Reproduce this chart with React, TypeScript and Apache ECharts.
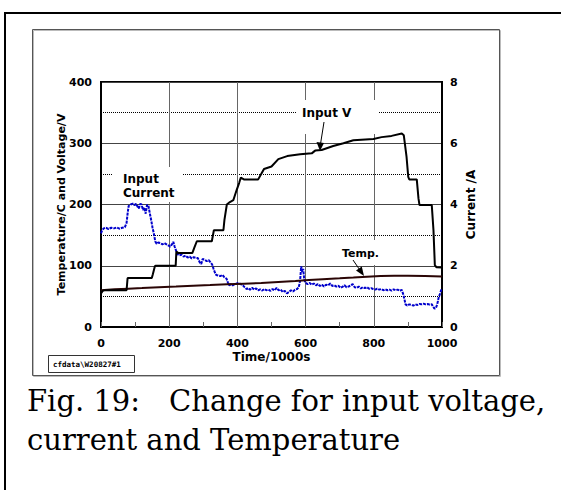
import React, { useEffect, useRef } from 'react';
import * as echarts from 'echarts';

// Input voltage (V), left axis
const voltTime = [0, 5, 10, 75, 78, 149, 152, 158, 160, 219, 221, 226, 268, 274, 281, 325, 331, 359, 362, 369, 378, 388, 398, 405, 410, 419, 461, 471, 478, 500, 520, 546, 584, 618, 628, 647, 681, 711, 740, 799, 823, 852, 882, 888, 896, 901, 904, 926, 931, 934, 970, 975, 979, 984, 1000];
const voltValues = [55, 59, 60, 60, 80, 80, 86, 99, 100, 100, 123, 121, 121, 130, 140, 140, 158, 158, 175, 200, 204, 207, 224, 235, 244, 241, 241, 251, 258, 262, 274, 279, 282, 283.5, 288, 289, 295.5, 300, 305, 307, 310, 312, 316, 313, 278, 245, 241, 241, 210, 199, 199, 158, 101, 97.5, 97];

// Temperature (C), left axis
const tempTime = [0, 40, 80, 120, 170, 220, 270, 320, 370, 420, 470, 520, 570, 610, 650, 700, 740, 780, 820, 860, 900, 950, 1000];
const tempValues = [60, 61.5, 62.6, 63.5, 64.8, 66, 67.5, 68.6, 69.8, 70.8, 71.8, 73.5, 75, 76.8, 78, 79.5, 80.8, 82.2, 83.2, 83.8, 83.6, 83.3, 82.5];

// Input current (A), right axis
const currTime = [0, 3, 8, 15, 22, 30, 38, 46, 54, 62, 70, 75, 78, 81, 87, 93, 98, 103, 107, 111, 115, 119, 123, 127, 131, 135, 139, 143, 147, 151, 155, 159, 163, 168, 174, 180, 186, 192, 198, 203, 208, 212, 216, 220, 224, 230, 236, 242, 248, 254, 260, 266, 272, 278, 284, 290, 294, 298, 304, 310, 316, 322, 326, 330, 334, 338, 344, 350, 356, 362, 368, 372, 376, 381, 386, 392, 398, 404, 410, 416, 421, 427, 432, 437, 443, 449, 455, 461, 467, 473, 479, 485, 491, 497, 503, 509, 515, 521, 527, 533, 539, 545, 551, 557, 563, 569, 575, 580, 584, 587, 590, 593, 596, 600, 606, 612, 618, 624, 630, 636, 642, 648, 654, 660, 666, 672, 678, 684, 690, 696, 702, 708, 714, 720, 726, 732, 738, 744, 750, 756, 762, 768, 774, 780, 786, 792, 798, 804, 810, 816, 822, 828, 834, 840, 846, 852, 858, 864, 870, 876, 882, 886, 890, 893, 898, 904, 910, 916, 922, 928, 934, 940, 946, 952, 958, 964, 970, 974, 978, 982, 986, 990, 994, 998, 1000];
const currValues = [3.06, 3.15, 3.22, 3.24, 3.2, 3.24, 3.22, 3.25, 3.21, 3.24, 3.26, 3.4, 3.7, 3.95, 4.0, 4.03, 3.98, 4.02, 3.93, 3.87, 4.02, 4.0, 3.82, 3.9, 3.7, 3.99, 3.96, 3.72, 3.5, 3.25, 3.05, 2.8, 2.72, 2.76, 2.74, 2.7, 2.74, 2.7, 2.66, 2.62, 2.7, 2.78, 2.62, 2.5, 2.38, 2.34, 2.36, 2.3, 2.33, 2.27, 2.3, 2.24, 2.28, 2.26, 2.25, 2.1, 2.06, 2.22, 2.2, 2.15, 2.18, 2.1, 2.04, 1.9, 1.78, 1.7, 1.68, 1.66, 1.7, 1.62, 1.58, 1.46, 1.36, 1.4, 1.36, 1.4, 1.42, 1.44, 1.4, 1.36, 1.3, 1.24, 1.27, 1.22, 1.28, 1.22, 1.26, 1.2, 1.23, 1.19, 1.24, 1.2, 1.22, 1.18, 1.24, 1.2, 1.28, 1.2, 1.22, 1.14, 1.18, 1.1, 1.14, 1.2, 1.16, 1.22, 1.24, 1.3, 1.52, 1.98, 1.8, 1.9, 1.55, 1.44, 1.4, 1.44, 1.38, 1.42, 1.36, 1.4, 1.34, 1.38, 1.32, 1.38, 1.36, 1.42, 1.34, 1.36, 1.32, 1.35, 1.28, 1.31, 1.36, 1.3, 1.32, 1.36, 1.4, 1.3, 1.28, 1.32, 1.26, 1.3, 1.27, 1.3, 1.25, 1.27, 1.24, 1.22, 1.25, 1.22, 1.24, 1.2, 1.23, 1.2, 1.22, 1.19, 1.23, 1.2, 1.22, 1.18, 1.21, 1.08, 0.9, 0.74, 0.7, 0.74, 0.72, 0.7, 0.74, 0.72, 0.75, 0.74, 0.76, 0.74, 0.75, 0.73, 0.74, 0.66, 0.6, 0.62, 0.74, 0.95, 1.08, 1.22, 1.2];

const xTicks = { min: 0, max: 1000, interval: 200 };
const leftTicks = { min: 0, max: 400, interval: 100 };
const rightTicks = { min: 0, max: 8, interval: 2 };

const captionLines = ['Fig. 19:\u3000Change for input voltage,', 'current and Temperature'];
const labelInputV = 'Input V';
const labelInputCurrent = 'Input\nCurrent';
const labelTemp = 'Temp.';
const fileTag = 'cfdata\\W20827#1';

const SANS = "'DejaVu Sans', sans-serif";
const SERIF = "'DejaVu Serif', serif";

function pairs(xs: number[], ys: number[]) {
  return xs.map((x, i) => [x, ys[i]]);
}

const plain = (v: number) => String(v);

export default function App() {
  const ref = useRef<HTMLDivElement>(null);
  useEffect(() => {
    const chart = echarts.init(ref.current!, null, { renderer: 'svg', width: 561, height: 490 });
    const labelFont = { fontFamily: SANS, fontWeight: 'bold' as const, color: '#000' };
    chart.setOption({
      animation: false,
      backgroundColor: '#fff',
      grid: { left: 101, top: 82, width: 341, height: 245, show: true, borderColor: '#000', borderWidth: 2, backgroundColor: 'transparent' },
      xAxis: {
        type: 'value', ...xTicks,
        name: 'Time/1000s', nameLocation: 'middle', nameGap: 24, nameMoveOverlap: false,
        nameTextStyle: { ...labelFont, fontSize: 12 },
        axisLine: { lineStyle: { color: '#000', width: 2 } },
        axisTick: { show: true, inside: true, length: 5, lineStyle: { color: '#666' } },
        minorTick: { show: true, splitNumber: 2, length: 5, lineStyle: { color: '#666' } },
        axisLabel: { ...labelFont, fontSize: 11, margin: 11, formatter: plain },
        splitLine: { show: true, lineStyle: { color: '#666', width: 1 } },
      },
      yAxis: [
        {
          type: 'value', ...leftTicks, position: 'left',
          name: 'Temperature/C and Voltage/V', nameLocation: 'middle', nameGap: 34, nameMoveOverlap: false,
          nameTextStyle: { ...labelFont, fontSize: 11, color: '#000' },
          axisLine: { show: true, lineStyle: { color: '#000', width: 2 } },
          axisTick: { show: false },
          minorTick: { show: false, splitNumber: 2 },
          axisLabel: { ...labelFont, fontSize: 11, margin: 9, formatter: plain },
          splitLine: { show: true, lineStyle: { color: '#444', width: 1 } },
          minorSplitLine: { show: true, lineStyle: { color: '#000', width: 1, type: [1, 1] } },
        },
        {
          type: 'value', ...rightTicks, position: 'right',
          name: 'Current /A', nameLocation: 'middle', nameGap: 23, nameMoveOverlap: false,
          nameTextStyle: { ...labelFont, fontSize: 12, color: '#000' },
          axisLine: { show: true, lineStyle: { color: '#000', width: 2 } },
          axisTick: { show: false, inside: true },
          axisLabel: { ...labelFont, fontSize: 11, margin: 8, formatter: plain },
          splitLine: { show: false },
        },
      ],
      series: [
        {
          name: 'Input Current', type: 'line', yAxisIndex: 1, data: pairs(currTime, currValues),
          showSymbol: false, lineStyle: { color: '#0000cc', width: 2, type: [3, 1] }, z: 2,
        },
        {
          name: 'Temp.', type: 'line', yAxisIndex: 0, data: pairs(tempTime, tempValues),
          showSymbol: false, lineStyle: { color: '#2a0505', width: 2 }, z: 3,
        },
        {
          name: 'Input V', type: 'line', yAxisIndex: 0, data: pairs(voltTime, voltValues),
          showSymbol: false, lineStyle: { color: '#000', width: 2 }, z: 4,
        },
      ],
      graphic: [
        { type: 'polyline', z: 0, silent: true, shape: { points: [[5, 520], [5, 13], [600, 13]] }, style: { fill: 'none', stroke: '#000', lineWidth: 2 } },
        { type: 'rect', z: 0, silent: true, shape: { x: 33.5, y: 30.5, width: 467, height: 346 }, style: { fill: 'none', stroke: '#bbb', lineWidth: 1 } },
        { type: 'rect', z: 0, silent: true, shape: { x: 32.5, y: 29.5, width: 467, height: 346 }, style: { fill: 'none', stroke: '#555', lineWidth: 1 } },
        // white label backgrounds
        { type: 'rect', z: 1, silent: true, shape: { x: 297, y: 100, width: 82, height: 34 }, style: { fill: '#fff' } },
        { type: 'rect', z: 1, silent: true, shape: { x: 112, y: 167, width: 70, height: 35 }, style: { fill: '#fff' } },
        { type: 'rect', z: 1, silent: true, shape: { x: 338, y: 240, width: 44, height: 25 }, style: { fill: '#fff' } },
        // labels
        { type: 'text', z: 10, x: 302, y: 113, style: { text: labelInputV, font: `bold 12px ${SANS}`, fill: '#000', verticalAlign: 'middle', align: 'left' } },
        { type: 'text', z: 10, x: 123, y: 186, style: { text: labelInputCurrent, font: `bold 12px ${SANS}`, lineHeight: 14, fill: '#000', verticalAlign: 'middle', align: 'left' } },
        { type: 'text', z: 10, x: 342, y: 253, style: { text: labelTemp, font: `bold 11px ${SANS}`, fill: '#000', verticalAlign: 'middle', align: 'left' } },
        // arrows
        { type: 'line', z: 10, silent: true, shape: { x1: 324, y1: 122, x2: 320.5, y2: 144 }, style: { stroke: '#000', lineWidth: 1 } },
        { type: 'polygon', z: 10, silent: true, shape: { points: [[320, 151], [316.5, 142], [324, 143]] }, style: { fill: '#000' } },
        { type: 'line', z: 10, silent: true, shape: { x1: 353, y1: 260, x2: 359.5, y2: 269.5 }, style: { stroke: '#000', lineWidth: 1 } },
        { type: 'polygon', z: 10, silent: true, shape: { points: [[364, 276], [361.8, 266.6], [356, 270.6]] }, style: { fill: '#000' } },
        // file tag box
        { type: 'rect', z: 1, silent: true, shape: { x: 48.5, y: 355.5, width: 86, height: 17 }, style: { fill: '#fff', stroke: '#333', lineWidth: 1 } },
        { type: 'text', z: 10, x: 53, y: 364, style: { text: fileTag, font: `bold 7.5px 'DejaVu Sans Mono', monospace`, fill: '#000', verticalAlign: 'middle', align: 'left' } },
        // caption
        { type: 'text', z: 10, x: 27, y: 401, style: { text: captionLines[0], font: `29px ${SERIF}`, fill: '#000', verticalAlign: 'middle', align: 'left' } },
        { type: 'text', z: 10, x: 27, y: 440, style: { text: captionLines[1], font: `29px ${SERIF}`, fill: '#000', verticalAlign: 'middle', align: 'left' } },
      ],
    });
    return () => chart.dispose();
  }, []);
  return <div ref={ref} style={{ position: 'fixed', left: 0, top: 0, width: 561, height: 490, background: '#fff' }} />;
}
